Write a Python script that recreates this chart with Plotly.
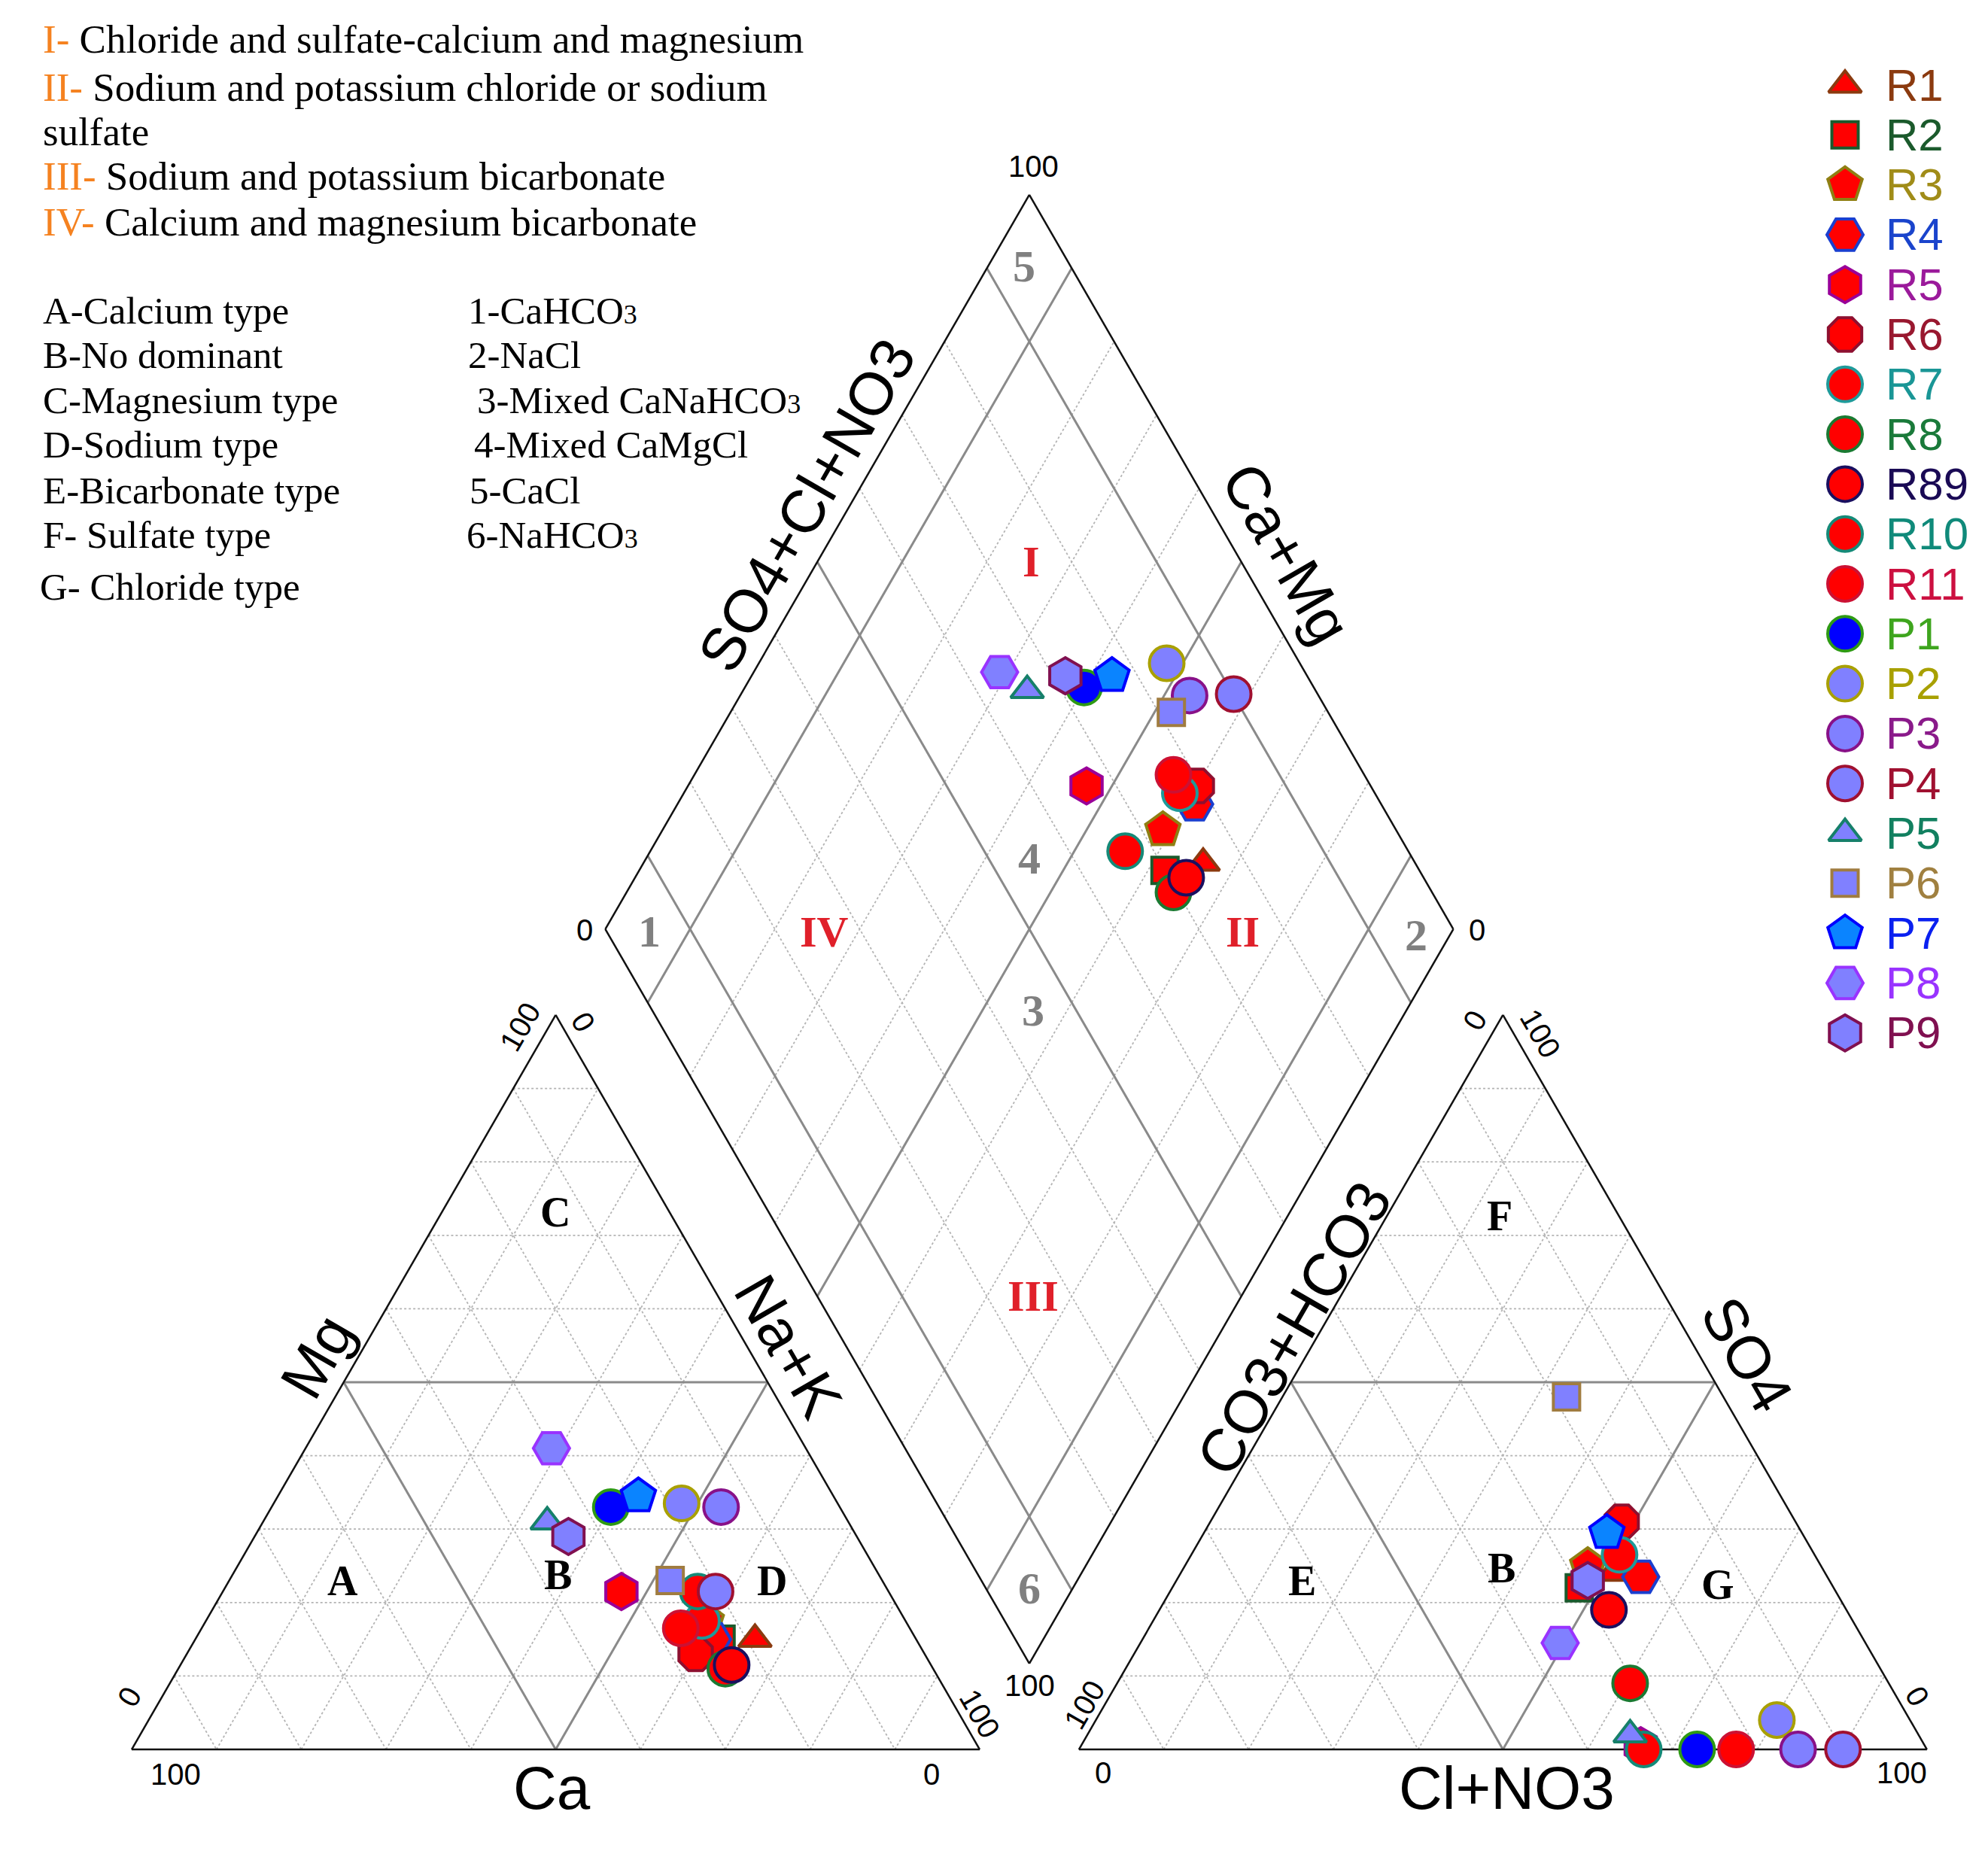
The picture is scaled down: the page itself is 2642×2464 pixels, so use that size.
import numpy as np
import plotly.graph_objects as go

# ------------------------------------------------------------------ data
samples = ["R1", "R2", "R3", "R4", "R5", "R6", "R7", "R8", "R89", "R10", "R11",
           "P1", "P2", "P3", "P4", "P5", "P6", "P7", "P8", "P9"]
# cations (% meq)
ca  = [19, 23, 23.5, 24, 31.5, 27, 24, 24.5, 23.5, 22.5, 27, 27, 18.4, 14, 20.4, 35.5, 25, 23, 30, 34]
mg  = [15, 15, 17.5, 15, 21.5, 13, 17.5, 11, 11.5, 21.5, 16.5, 33, 33.5, 33, 21.5, 31, 23, 34.5, 41, 29]
nak = [66, 62, 59, 61, 47, 60, 58.5, 64.5, 65, 56, 56.5, 40, 48.1, 53, 58.1, 33.5, 52, 42.5, 29, 37]
# anions (% meq)
hco3 = [25, 30, 27.5, 22, 33.5, 20.5, 23, 30.5, 28, 33.4, 22.5, 27.1, 15.7, 15.2, 9.9, 34, 18.5, 23, 36, 28.5]
so4  = [24, 22, 25, 23.5, 0.5, 31, 26.5, 9, 19, 0, 0, 0, 4, 0, 0, 2, 48, 29.5, 14.5, 23]
cl   = [51, 48, 47.5, 54.5, 66, 48.5, 50.5, 60.5, 53, 66.6, 77.5, 72.9, 80.3, 84.8, 90.1, 64, 33.5, 47.5, 49.5, 48.5]

# ------------------------------------------------------------------ styles
symbols = ["triangle-up", "square", "pentagon", "hexagon2", "hexagon", "octagon", "circle",
           "circle", "circle", "circle", "circle", "circle", "circle", "circle", "circle",
           "triangle-up", "square", "pentagon", "hexagon2", "hexagon"]
fills = ["#ff0000"] * 11 + ["#0000ff", "#8080ff", "#8080ff", "#8080ff", "#8080ff",
                            "#8080ff", "#0a84ff", "#8080ff", "#8080ff"]
edges = ["#8b3a0f", "#1b5a2c", "#8f7f12", "#1a3fd0", "#990099", "#8e1030", "#1f9a9a",
         "#1a7a32", "#1a1060", "#158a78", "#cc1133", "#2e9a14", "#a9a000", "#881188",
         "#a01030", "#16806a", "#a07c40", "#0000ff", "#9933ff", "#801050"]
labelcol = ["#8b3a0f", "#1b5a2c", "#a08c18", "#1a44cc", "#9b1a9b", "#99182f", "#1a9696",
            "#1a7a3a", "#1a0a55", "#108a7a", "#cc1040", "#3ea51e", "#a8a000", "#8a1a8a",
            "#a01030", "#128060", "#a08040", "#0a20f0", "#9933ff", "#801050"]
sizes = {"circle": 46, "square": 35, "triangle-up": 38, "pentagon": 48,
         "hexagon2": 48, "hexagon": 48, "octagon": 48}

# ------------------------------------------------------------------ geometry
W, H = 2642, 2464          # page size
PAD = 8                    # default body margin of the html page
FW, FH = W - PAD, H - PAD  # figure size
SIDE = 1127.0
OX, OY = 175.0, 2325.0     # page pixel of the Ca vertex
GAP = 0.117
S3 = np.sqrt(3) / 2

x0 = -(OX - PAD) / SIDE
x1 = x0 + FW / SIDE
y1 = (OY - PAD) / SIDE
y0 = y1 - FH / SIDE


def cation_xy(c, m, n):
    t = c + m + n
    m, n = m / t, n / t
    return n + m / 2, S3 * m


def anion_xy(h, s, c):
    t = h + s + c
    s, c = s / t, c / t
    return 1 + GAP + c + s / 2, S3 * s


def diamond_xy(n, s):
    return (n + 1 + GAP + s) / 2, S3 * (1 + GAP + s - n)


fig = go.Figure()


def add_lines(segs, color, width, dash="solid"):
    xs, ys = [], []
    for (p, q) in segs:
        xs += [p[0], q[0], None]
        ys += [p[1], q[1], None]
    fig.add_trace(go.Scatter(x=xs, y=ys, mode="lines", hoverinfo="skip",
                             line=dict(color=color, width=width, dash=dash),
                             showlegend=False))


ks = [k / 10 for k in range(1, 10)]
dot_segs, gray_segs, edge_segs = [], [], []

for k in ks:
    tri_c = [(cation_xy(1 - k, k, 0), cation_xy(0, k, 1 - k)),
             (cation_xy(1 - k, 0, k), cation_xy(0, 1 - k, k)),
             (cation_xy(k, 1 - k, 0), cation_xy(k, 0, 1 - k))]
    tri_a = [(anion_xy(1 - k, k, 0), anion_xy(0, k, 1 - k)),
             (anion_xy(1 - k, 0, k), anion_xy(0, 1 - k, k)),
             (anion_xy(k, 1 - k, 0), anion_xy(k, 0, 1 - k))]
    dia = [(diamond_xy(k, 0), diamond_xy(k, 1)), (diamond_xy(0, k), diamond_xy(1, k))]
    if abs(k - 0.5) < 1e-9:
        gray_segs += tri_c + tri_a + dia
    elif abs(k - 0.1) < 1e-9 or abs(k - 0.9) < 1e-9:
        gray_segs += dia
        dot_segs += tri_c + tri_a
    else:
        dot_segs += tri_c + tri_a + dia

# outlines
cA, cB, cC = cation_xy(100, 0, 0), cation_xy(0, 0, 100), cation_xy(0, 100, 0)
aA, aB, aC = anion_xy(100, 0, 0), anion_xy(0, 0, 100), anion_xy(0, 100, 0)
dB, dL, dR, dT = diamond_xy(1, 0), diamond_xy(0, 0), diamond_xy(1, 1), diamond_xy(0, 1)
edge_segs += [(cA, cB), (cB, cC), (cC, cA), (aA, aB), (aB, aC), (aC, aA),
              (dB, dL), (dL, dT), (dT, dR), (dR, dB)]

add_lines(dot_segs, "#b4b4b4", 1.8, "dot")
add_lines(gray_segs, "#8a8a8a", 3)
add_lines(edge_segs, "#111111", 2.5)

# ------------------------------------------------------------------ samples
for i, name in enumerate(samples):
    cx, cy = cation_xy(ca[i], mg[i], nak[i])
    ax, ay = anion_xy(hco3[i], so4[i], cl[i])
    tot_c = ca[i] + mg[i] + nak[i]
    tot_a = hco3[i] + so4[i] + cl[i]
    dx, dy = diamond_xy(nak[i] / tot_c, 1 - hco3[i] / tot_a)
    fig.add_trace(go.Scatter(
        x=[cx, ax, dx], y=[cy, ay, dy], mode="markers", name=name,
        marker=dict(symbol=symbols[i], size=sizes[symbols[i]], color=fills[i],
                    line=dict(color=edges[i], width=4)),
        showlegend=False))

# ------------------------------------------------------------------ legend (manual)
LEG_X, LEG_TX, LEG_Y0, LEG_DY = 2452, 2504, 113, 66.3
for i, name in enumerate(samples):
    fig.add_trace(go.Scatter(
        x=[LEG_X], y=[LEG_Y0 + i * LEG_DY], xaxis="x2", yaxis="y2", mode="markers",
        marker=dict(symbol=symbols[i], size=sizes[symbols[i]], color=fills[i],
                    line=dict(color=edges[i], width=4)),
        hoverinfo="skip", showlegend=False))

annotations = []


def note(x, y, text, size, family="Liberation Sans", color="#000000", angle=0,
         xanchor="center"):
    annotations.append(dict(x=x, y=y, xref="x2", yref="y2", text=text, showarrow=False,
                            textangle=angle, xanchor=xanchor, yanchor="middle",
                            font=dict(size=size, family=family, color=color)))


for i, name in enumerate(samples):
    note(LEG_TX, LEG_Y0 + i * LEG_DY, name, 60, color=labelcol[i], xanchor="left")

# ------------------------------------------------------------------ text block
SERIF = "Liberation Serif"
OR = "#f58220"
top_lines = [("I-", " Chloride and sulfate-calcium and magnesium", 52),
             ("II-", " Sodium and potassium chloride or sodium", 116),
             ("", "sulfate", 175),
             ("III-", " Sodium and potassium bicarbonate", 234),
             ("IV-", " Calcium and magnesium bicarbonate", 295)]
for rn, txt, yy in top_lines:
    t = (f"<span style='color:{OR}'>{rn}</span>" if rn else "") + txt
    note(55, yy, t, 53, family=SERIF, xanchor="left")

sub3 = "<span style='font-size:36px'>3</span>"
left_types = [("A-Calcium type", 55, 413), ("B-No dominant", 55, 472),
              ("C-Magnesium type", 55, 532), ("D-Sodium type", 55, 591),
              ("E-Bicarbonate type", 55, 652), ("F- Sulfate type", 55, 711),
              ("G- Chloride type", 51, 780)]
for txt, xx, yy in left_types:
    note(xx, yy, txt, 51, family=SERIF, xanchor="left")
right_types = [("1-CaHCO" + sub3, 620, 413), ("2-NaCl", 620, 472),
               ("3-Mixed CaNaHCO" + sub3, 632, 532), ("4-Mixed CaMgCl", 628, 591),
               ("5-CaCl", 622, 652), ("6-NaHCO" + sub3, 618, 711)]
for txt, xx, yy in right_types:
    note(xx, yy, txt, 51, family=SERIF, xanchor="left")

# ------------------------------------------------------------------ region labels
RED = "#e0202a"
for txt, xx, yy in [("I", 1370, 746), ("IV", 1095, 1238), ("II", 1651, 1238), ("III", 1373, 1722)]:
    note(xx, yy, f"<b>{txt}</b>", 58, family=SERIF, color=RED)
GRAY = "#808080"
for txt, xx, yy in [("5", 1361, 354), ("4", 1368, 1141), ("3", 1373, 1343),
                    ("1", 863, 1238), ("2", 1882, 1243), ("6", 1368, 2111)]:
    note(xx, yy, f"<b>{txt}</b>", 60, family=SERIF, color=GRAY)
for txt, xx, yy in [("C", 738, 1611), ("A", 455, 2101), ("B", 741, 2093), ("D", 1026, 2101),
                    ("F", 1993, 1616), ("E", 1730, 2101), ("B", 1995, 2084), ("G", 2283, 2106)]:
    note(xx, yy, f"<b>{txt}</b>", 56, family=SERIF)

# ------------------------------------------------------------------ axis titles
for txt, xx, yy, ang in [("Ca", 733, 2376, 0), ("Cl+NO3", 2002, 2376, 0),
                         ("Mg", 421, 1803, -60), ("Na+K", 1048, 1789, 60),
                         ("CO3+HCO3", 1719, 1766, -60), ("SO4", 2322, 1800, 60),
                         ("SO4+Cl+NO3", 1072, 671, -60), ("Ca+Mg", 1710, 735, 60)]:
    note(xx, yy, txt, 80, angle=ang)

# ------------------------------------------------------------------ tick labels
for txt, xx, yy, ang in [("100", 1373, 221, 0), ("0", 777, 1236, 0), ("0", 1963, 1236, 0),
                         ("100", 1368, 2240, 0),
                         ("100", 691, 1365, -60), ("0", 775, 1358, 60), ("0", 172, 2255, -60),
                         ("100", 233, 2358, 0), ("0", 1238, 2358, 0), ("100", 1302, 2277, 60),
                         ("0", 1960, 1356, -60), ("100", 2047, 1373, 60), ("100", 1441, 2266, -60),
                         ("0", 1466, 2356, 0), ("100", 2527, 2356, 0), ("0", 2548, 2254, 60)]:
    note(xx, yy, txt, 40, angle=ang)

fig.update_layout(
    width=FW, height=FH, margin=dict(l=0, r=0, t=0, b=0),
    paper_bgcolor="white", plot_bgcolor="white", showlegend=False,
    xaxis=dict(range=[x0, x1], visible=False, fixedrange=True),
    yaxis=dict(range=[y0, y1], visible=False, fixedrange=True),
    xaxis2=dict(range=[PAD, W], overlaying="x", anchor="y2", visible=False, fixedrange=True),
    yaxis2=dict(range=[H, PAD], overlaying="y", anchor="x2", visible=False, fixedrange=True),
    annotations=annotations,
)

fig.write_html("out.html")
